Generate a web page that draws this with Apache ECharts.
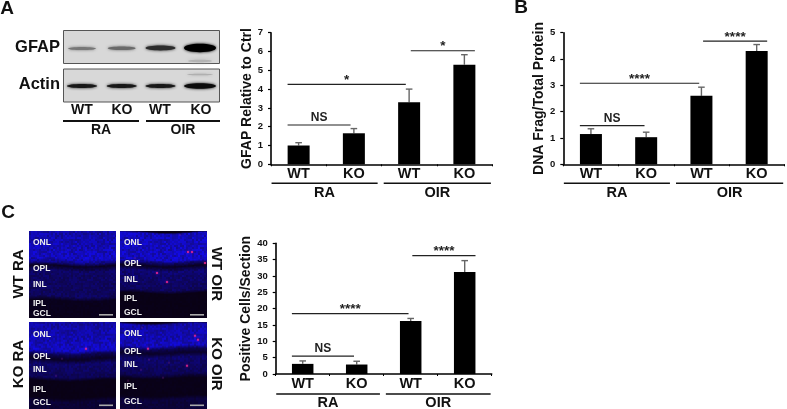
<!DOCTYPE html>
<html><head><meta charset="utf-8">
<style>html,body{margin:0;padding:0;background:#fff}#c{width:787px;height:409px}</style>
<script src="https://cdn.jsdelivr.net/npm/echarts@6/dist/echarts.min.js"></script>
</head><body><div id="c"></div>
<script>
const categories = ['WT','KO','WT','KO'];
const groupNames = ['RA','OIR'];
const gfapValues = [1.0,1.65,3.3,5.3];
const gfapTops   = [1.15,1.9,4.0,5.83];
const dnaValues  = [1.15,1.03,2.6,4.3];
const dnaTops    = [1.35,1.22,2.93,4.55];
const cellValues = [3.1,2.9,16.2,31.2];
const cellTops   = [4.0,3.9,17.0,34.7];
// significance brackets: from category, to category, axis value, text
const gfapBrackets = [[-0.2,0.94,2.09,'NS'],[-0.2,1.94,4.25,'*'],[2.03,3.19,6.04,'*']];
const dnaBrackets  = [[-0.2,0.97,1.47,'NS'],[-0.2,1.96,3.08,'****'],[2.03,3.19,4.68,'****']];
const cellBrackets = [[-0.2,0.95,5.5,'NS'],[-0.2,1.96,18.45,'****'],[2.03,3.2,36.2,'****']];

const FONT = '"Liberation Sans", Arial, sans-serif';
const panels = [
 {left:271,top:32.7,w:221,h:131.6,max:7,interval:1,name:'GFAP Relative to Ctrl',gap:16,vals:gfapValues,tops:gfapTops,br:gfapBrackets,bw:22,line:[18.5,29]},
 {left:563.3,top:32.7,w:221,h:131.6,max:5,interval:1,name:'DNA Frag/Total Protein',gap:15,vals:dnaValues,tops:dnaTops,br:dnaBrackets,bw:22,line:[18.5,29]},
 {left:275.7,top:243.3,w:216,h:130.7,max:40,interval:5,name:'Positive Cells/Section',gap:21.5,vals:cellValues,tops:cellTops,br:cellBrackets,bw:21.5,line:[19.5,29]}
];
const grid=[],xAxis=[],yAxis=[],series=[];
panels.forEach((p,i)=>{
  grid.push({left:p.left,top:p.top,width:p.w,height:p.h});
  xAxis.push({gridIndex:i,type:'category',data:categories,
    axisLine:{lineStyle:{color:'#000',width:1.6}},
    axisTick:{show:true,length:2,lineStyle:{color:'#000',width:1},alignWithLabel:false},
    axisLabel:{color:'#111',fontFamily:FONT,fontWeight:'bold',fontSize:14.5,margin:2,interval:0}});
  xAxis.push({gridIndex:i,type:'value',min:-0.5,max:3.5,show:false});
  yAxis.push({gridIndex:i,type:'value',min:0,max:p.max,interval:p.interval,
    name:p.name,nameLocation:'middle',nameRotate:90,nameGap:p.gap,
    nameTextStyle:{color:'#111',fontFamily:FONT,fontWeight:'bold',fontSize:14},
    splitLine:{show:false},
    axisLine:{show:true,onZero:false,lineStyle:{color:'#000',width:1.6}},
    axisTick:{show:true,length:3,lineStyle:{color:'#000',width:1.2}},
    axisLabel:{color:'#111',fontFamily:FONT,fontWeight:'bold',fontSize:9.5,margin:8}});
  const xi=i*2, hx=i*2+1;
  series.push({type:'bar',xAxisIndex:xi,yAxisIndex:i,data:p.vals,barWidth:p.bw,silent:true,
    itemStyle:{color:'#000'}});
  series.push({type:'custom',xAxisIndex:hx,yAxisIndex:i,silent:true,
    data:p.vals.map((v,k)=>[k,v,p.tops[k]]),encode:{x:0,y:2},
    renderItem:(params,api)=>{
      const a=api.coord([api.value(0),api.value(1)]),b=api.coord([api.value(0),api.value(2)]);
      const s={stroke:'#666',lineWidth:1.4,fill:null};
      return {type:'group',children:[
        {type:'line',shape:{x1:a[0],y1:a[1],x2:b[0],y2:b[1]},style:s},
        {type:'line',shape:{x1:b[0]-3.3,y1:b[1],x2:b[0]+3.3,y2:b[1]},style:s}]};
    }});
  series.push({type:'custom',xAxisIndex:hx,yAxisIndex:i,silent:true,
    data:p.br.map(b=>[b[0],b[1],b[2]]),encode:{x:[0,1],y:2},
    renderItem:(params,api)=>{
      const a=api.coord([api.value(0),api.value(2)]),b=api.coord([api.value(1),api.value(2)]);
      const t=p.br[params.dataIndex][3];
      return {type:'group',children:[
        {type:'line',shape:{x1:a[0],y1:a[1],x2:b[0],y2:b[1]},style:{stroke:'#222',lineWidth:1.2}},
        {type:'text',x:(a[0]+b[0])/2,y:a[1]-(t==='NS'?1:-3),style:{text:t,align:'center',verticalAlign:'bottom',
          font:'bold '+(t==='NS'?12:13.5)+'px '+FONT,fill:'#222'}}]};
    }});
  series.push({type:'custom',xAxisIndex:hx,yAxisIndex:i,silent:true,
    data:[[-0.49,1.43],[1.54,3.48]],encode:{x:[0,1]},clip:false,
    renderItem:(params,api)=>{
      const a=api.coord([api.value(0),0]),b=api.coord([api.value(1),0]);
      return {type:'group',children:[
        {type:'line',shape:{x1:a[0],y1:a[1]+p.line[0]+.5,x2:b[0],y2:a[1]+p.line[0]+.5},style:{stroke:'#111',lineWidth:1.6}},
        {type:'text',x:(a[0]+b[0])/2,y:a[1]+p.line[1],style:{text:groupNames[params.dataIndex],align:'center',verticalAlign:'middle',
          font:'bold 14.5px '+FONT,fill:'#111'}}]};
    }});
});

/* ---------- western blots and micrographs (decorative images) ---------- */
const g=[];
const txt=(t,x,y,size,o)=>g.push(Object.assign({type:'text',x,y,style:{text:t,font:'bold '+size+'px '+FONT,fill:'#111',align:'center',verticalAlign:'middle'}},o||{}));
txt('A',7,9,19); txt('B',521,8,19); txt('C',8,213,19);

function blot(y,h,bands,extras){
  g.push({type:'rect',shape:{x:63.5,y,width:156,height:h},style:{fill:'#d8d8d8',stroke:'#555',lineWidth:1}});
  bands.concat(extras).forEach(b=>{
    g.push({type:'ellipse',shape:{cx:b[0],cy:b[1],rx:b[2],ry:b[3]},style:{fill:b[4],shadowBlur:b[5]||3,shadowColor:b[4]}});
  });
}
blot(30.5,33,[[82,48.5,14,1.6,'#777'],[121.7,48.3,14,1.8,'#6a6a6a'],[160.5,48,15,2.4,'#2c2c2c'],[200,48,16,4.2,'#000']],
  [[200,61,12,1.2,'#b4b4b4',4]]);
blot(69,33,[[82,86,15,2,'#181818'],[121.7,86,15,2,'#181818'],[160.5,86,15,2,'#181818'],[200,86,16,2.8,'#0c0c0c']],
  [[200,74.5,13,.8,'#b0b0b0',3]]);
g.push({type:'text',x:60,y:47,style:{text:'GFAP',font:'bold 16.5px '+FONT,fill:'#111',align:'right',verticalAlign:'middle'}});
g.push({type:'text',x:60,y:84,style:{text:'Actin',font:'bold 16.5px '+FONT,fill:'#111',align:'right',verticalAlign:'middle'}});
[[82,0],[122,1],[160,2],[201,3]].forEach(a=>txt(categories[a[1]],a[0],110,14));
[[63,139],[146,220]].forEach(s=>g.push({type:'line',shape:{x1:s[0],y1:121,x2:s[1],y2:121},style:{stroke:'#111',lineWidth:1.8}}));
txt('RA',101,130,14); txt('OIR',183,130,14);

function hash(x,y){const s=Math.sin(x*127.1+y*311.7)*43758.5453;return s-Math.floor(s);}
function micro(x0,y0,stops,dots,seed){
  const W=87,H=87,c=document.createElement('canvas');c.width=W;c.height=H;
  const ctx=c.getContext('2d'),im=ctx.createImageData(W,H);
  for(let y=0;y<H;y++)for(let x=0;x<W;x++){
    const yy=y*3+Math.sin((x+seed*9)/14)*3.5;
    let I=stops[stops.length-1][1];
    if(yy<=stops[0][0])I=stops[0][1];
    else for(let k=1;k<stops.length;k++){if(yy<=stops[k][0]){const a=stops[k-1],b=stops[k];I=a[1]+(b[1]-a[1])*(yy-a[0])/(b[0]-a[0]);break;}}
    const n=.75+.45*hash(Math.floor(x/2)+seed,Math.floor(y/2));
    const b=Math.min(255,255*I*n),j=(y*W+x)*4;
    im.data[j]=8+I*14;im.data[j+1]=I*14;im.data[j+2]=b+10;im.data[j+3]=255;
  }
  ctx.putImageData(im,0,0);
  dots.forEach(d=>{ctx.fillStyle=d[2]?'rgba(255,40,150,.9)':'rgba(170,50,170,.5)';ctx.shadowColor=ctx.fillStyle;ctx.shadowBlur=2;
    ctx.beginPath();ctx.arc(d[0],d[1],d[2]?1:.7,0,7);ctx.fill();});
  g.push({type:'image',style:{image:c,x:x0,y:y0,width:W,height:H}});
}
micro(29,231,[[0,.62],[80,.72],[93,.5],[103,.1],[118,.35],[195,.33],[207,.08],[260,.06]],[],1);
micro(120,231,[[0,.05],[5,.7],[85,.72],[92,.4],[103,.1],[118,.4],[175,.33],[185,.05],[260,.05]],
  [[68,21,1],[72,21,1],[85,32,1],[37,42,1],[47,51,1],[15,27,0],[60,4,0]],2);
micro(29,321.7,[[0,.6],[85,.72],[95,.3],[110,.1],[125,.38],[165,.3],[175,.05],[225,.05],[238,.18],[260,.16]],
  [[57,27,1],[33,37,0],[27,54,0]],3);
micro(120,321.7,[[0,.05],[6,.62],[70,.7],[80,.28],[92,.12],[105,.38],[155,.3],[168,.06],[220,.06],[232,.2],[260,.18]],
  [[75,14,1],[78,18,1],[28,27,1],[29,38,0],[49,41,0],[67,44,1],[21,48,0],[43,56,0],[8,59,0],[22,6,0]],4);
const microLabels=[
 [33,[['ONL',243],['OPL',269],['INL',285],['IPL',304],['GCL',314]]],
 [124,[['ONL',243],['OPL',264],['INL',280],['IPL',299],['GCL',313]]],
 [33,[['ONL',335],['OPL',357],['INL',370],['IPL',390],['GCL',403]]],
 [124,[['ONL',334],['OPL',352],['INL',365],['IPL',387],['GCL',402]]]];
microLabels.forEach(p=>p[1].forEach(l=>g.push({type:'text',x:p[0],y:l[1],style:{text:l[0],font:'bold 8.5px '+FONT,fill:'#eee',align:'left',verticalAlign:'middle'}})));
[[99,314],[190,314],[99,404.5],[190,404.5]].forEach(b=>g.push({type:'rect',shape:{x:b[0],y:b[1],width:14,height:1.6},style:{fill:'#aaa'}}));
[['WT RA',19,274,1],['KO RA',19,364,1],['WT OIR',216,274,-1],['KO OIR',216,364,-1]].forEach(r=>{
  g.push({type:'text',x:r[1],y:r[2],rotation:r[3]*Math.PI/2,style:{text:r[0],font:'bold 15px '+FONT,fill:'#111',align:'center',verticalAlign:'middle'}});
});

const chart=echarts.init(document.getElementById('c'),null,{renderer:'canvas'});
chart.setOption({animation:false,backgroundColor:'#fff',grid,xAxis,yAxis,series,graphic:{elements:g}});
</script></body></html>
